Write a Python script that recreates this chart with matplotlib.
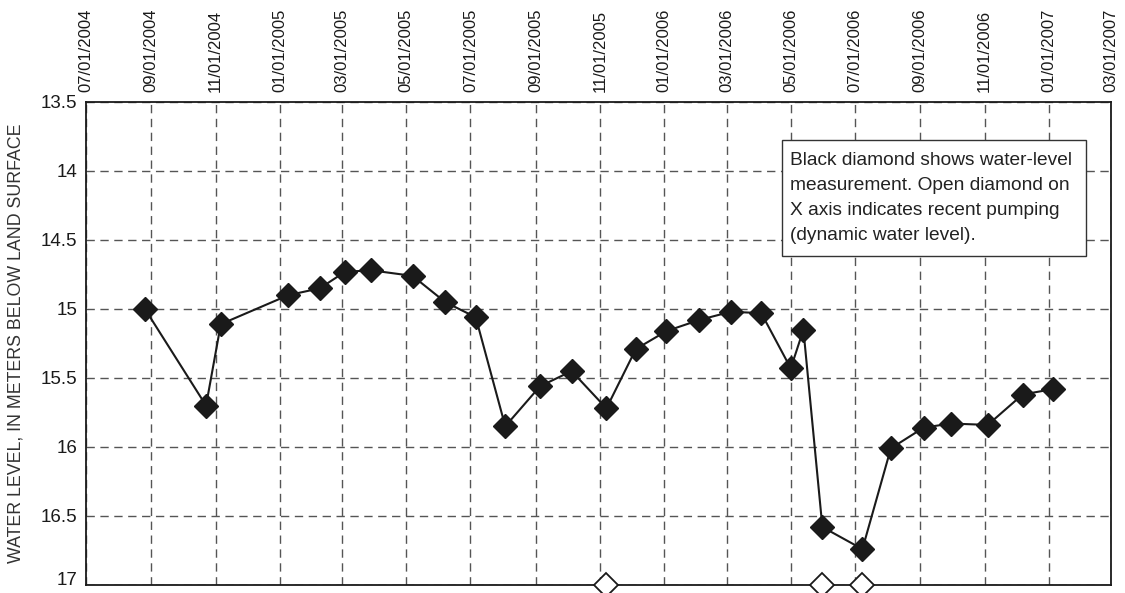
import matplotlib
matplotlib.use('Agg')
import matplotlib.pyplot as plt
import matplotlib.transforms as mtransforms
from matplotlib.patches import Rectangle
from datetime import datetime

# Water-level measurements (meters below land surface)
dates = ['2004-08-26', '2004-10-23', '2004-11-06', '2005-01-09', '2005-02-08',
         '2005-03-04', '2005-03-29', '2005-05-07', '2005-06-07', '2005-07-06',
         '2005-08-03', '2005-09-05', '2005-10-05', '2005-11-07', '2005-12-05',
         '2006-01-03', '2006-02-03', '2006-03-05', '2006-04-03', '2006-05-01',
         '2006-05-13', '2006-05-31', '2006-07-08', '2006-08-04', '2006-09-04',
         '2006-09-30', '2006-11-04', '2006-12-07', '2007-01-05']
levels = [15.00, 15.70, 15.11, 14.90, 14.85,
          14.73, 14.72, 14.76, 14.95, 15.06,
          15.85, 15.56, 15.45, 15.72, 15.29,
          15.16, 15.08, 15.02, 15.03, 15.43,
          15.15, 16.58, 16.74, 16.01, 15.86,
          15.83, 15.84, 15.62, 15.58]

# Dates with recent pumping (open diamonds on X axis)
pumping_dates = ['2005-11-07', '2006-05-31', '2006-07-08']

tick_dates = ['2004-07-01', '2004-09-01', '2004-11-01', '2005-01-01', '2005-03-01',
              '2005-05-01', '2005-07-01', '2005-09-01', '2005-11-01', '2006-01-01',
              '2006-03-01', '2006-05-01', '2006-07-01', '2006-09-01', '2006-11-01',
              '2007-01-01', '2007-03-01']
y_ticks = [13.5, 14, 14.5, 15, 15.5, 16, 16.5, 17]
y_labels = ['13.5', '14', '14.5', '15', '15.5', '16', '16.5', '17']

to_dt = lambda s: datetime.strptime(s, '%Y-%m-%d')
x = [to_dt(d) for d in dates]
xp = [to_dt(d) for d in pumping_dates]
xt = [to_dt(d) for d in tick_dates]

plt.rcParams['font.family'] = ['Liberation Sans', 'DejaVu Sans']

fig = plt.figure(figsize=(11.25, 5.93), dpi=100)
ax = fig.add_axes([0.0764, 0.0135, 0.9112, 0.8145])

ax.plot(x, levels, color='#1a1a1a', lw=1.5, marker='D', ms=12.5,
        mfc='#1a1a1a', mec='#1a1a1a', zorder=3)
ax.plot(xp, [17] * len(xp), ls='none', marker='D', ms=12.5, mfc='white',
        mec='#1a1a1a', mew=1.3, clip_on=False, zorder=4)

ax.set_xlim(xt[0], xt[-1])
ax.set_ylim(17, 13.5)
ax.set_xticks(xt)
ax.set_xticklabels([t.strftime('%m/%d/%Y') for t in xt], rotation=90)
ax.set_yticks(y_ticks)
ax.set_yticklabels(y_labels)
ax.xaxis.tick_top()
ax.tick_params(axis='x', length=0, pad=7, labelsize=12, labelcolor='#1a1a1a')
ax.tick_params(axis='y', length=0, pad=6, labelsize=13.5, labelcolor='#1a1a1a')

# nudge the bottom "17" label up a little so it stays inside the image
lbl = ax.get_yticklabels()[-1]
lbl.set_transform(lbl.get_transform() +
                  mtransforms.ScaledTranslation(0, 5 / 72, fig.dpi_scale_trans))

ax.grid(True, color='#555555', ls=(0, (6, 4)), lw=1.0)
for s in ax.spines.values():
    s.set_linewidth(1.3)
    s.set_color('#1a1a1a')

ax.set_ylabel('WATER LEVEL, IN METERS BELOW LAND SURFACE', fontsize=12.8, labelpad=12,
              color='#333333')

# note box
ax.add_patch(Rectangle((0.679, 0.681), 0.2966, 0.2403, transform=ax.transAxes,
                       fc='white', ec='#333333', lw=1.0, zorder=5))
ax.text(0.687, 0.897,
        'Black diamond shows water-level\nmeasurement. Open diamond on\n'
        'X axis indicates recent pumping\n(dynamic water level).',
        transform=ax.transAxes, ha='left', va='top', fontsize=13.8, linespacing=1.62,
        color='#222222', zorder=6)

fig.savefig('out.png', dpi=100)
